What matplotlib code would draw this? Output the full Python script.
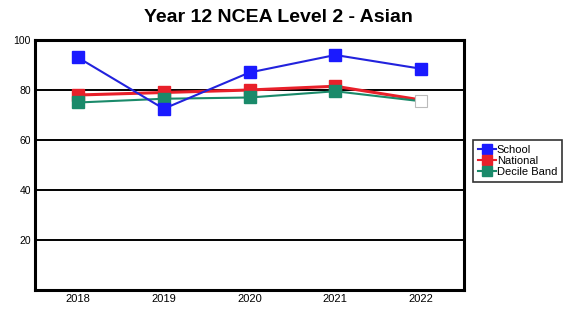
import matplotlib
matplotlib.use("Agg")
import matplotlib.pyplot as plt
from matplotlib.lines import Line2D

years = [2018, 2019, 2020, 2021, 2022]
school = [93, 72.5, 87, 94, 88.5]
national = [78, 79, 80, 81.5, 76]
decile = [75, 76.5, 77, 79.5, 75.5]
yticks = [20, 40, 60, 80, 100]

plt.rcParams['font.family'] = ['Liberation Sans', 'DejaVu Sans']

fig = plt.figure(figsize=(5.81, 3.09), dpi=100)
ax = fig.add_axes([35/581, 1-290/309, 429/581, 250/309])

for y in yticks[:-1]:
    ax.axhline(y, color='black', lw=1.4, zorder=1)

ax.plot(years, national, color='#e8202a', lw=2.2, marker='s', ms=8,
        mfc='#e8202a', mec='#e8202a', markevery=[0, 1, 2, 3], zorder=3)
ax.plot(years, decile, color='#1a8a6a', lw=1.5, marker='s', ms=8,
        mfc='#1a8a6a', mec='#1a8a6a', markevery=[0, 1, 2, 3], zorder=4)
ax.plot(years, school, color='#2222dd', lw=1.5, marker='s', ms=8.5,
        mfc='#1a1aff', mec='#1a1aff', zorder=5)
ax.plot([years[-1]], [decile[-1]], marker='s', ms=8.5, mfc='white',
        mec='#bbbbbb', mew=0.8, ls='none', zorder=6)

ax.set_xlim(2017.5, 2022.5)
ax.set_ylim(0, 100)
ax.set_xticks(years)
ax.set_xticklabels([str(y) for y in years])
ax.set_yticks(yticks)
ax.set_yticklabels([str(y) for y in yticks])
ax.tick_params(axis='x', length=0, labelsize=8, pad=3)
ax.tick_params(axis='y', length=0, labelsize=7.5, pad=3)
for s in ax.spines.values():
    s.set_linewidth(2.2)
    s.set_color('black')

fig.text(278/581, 1-17/309, 'Year 12 NCEA Level 2 - Asian', ha='center',
         va='center', fontsize=14, fontweight='bold')

handles = [
    Line2D([], [], color='#2222dd', marker='s', ms=6.5, mfc='#1a1aff', mec='#1a1aff', lw=1.5),
    Line2D([], [], color='#e8202a', marker='s', ms=6.5, mfc='#e8202a', mec='#e8202a', lw=1.5),
    Line2D([], [], color='#1a8a6a', marker='s', ms=6.5, mfc='#1a8a6a', mec='#1a8a6a', lw=1.5),
]
leg = fig.legend(handles, ['School', 'National', 'Decile Band'],
                 loc='upper left', bbox_to_anchor=(473/581, 1-140/309),
                 fontsize=8, frameon=True, fancybox=False, handlelength=1.6,
                 handletextpad=0.1, labelspacing=0.1, borderpad=0.45,
                 borderaxespad=0)
leg.get_frame().set_edgecolor('black')
leg.get_frame().set_linewidth(1.2)

fig.savefig('out.png', dpi=100)
